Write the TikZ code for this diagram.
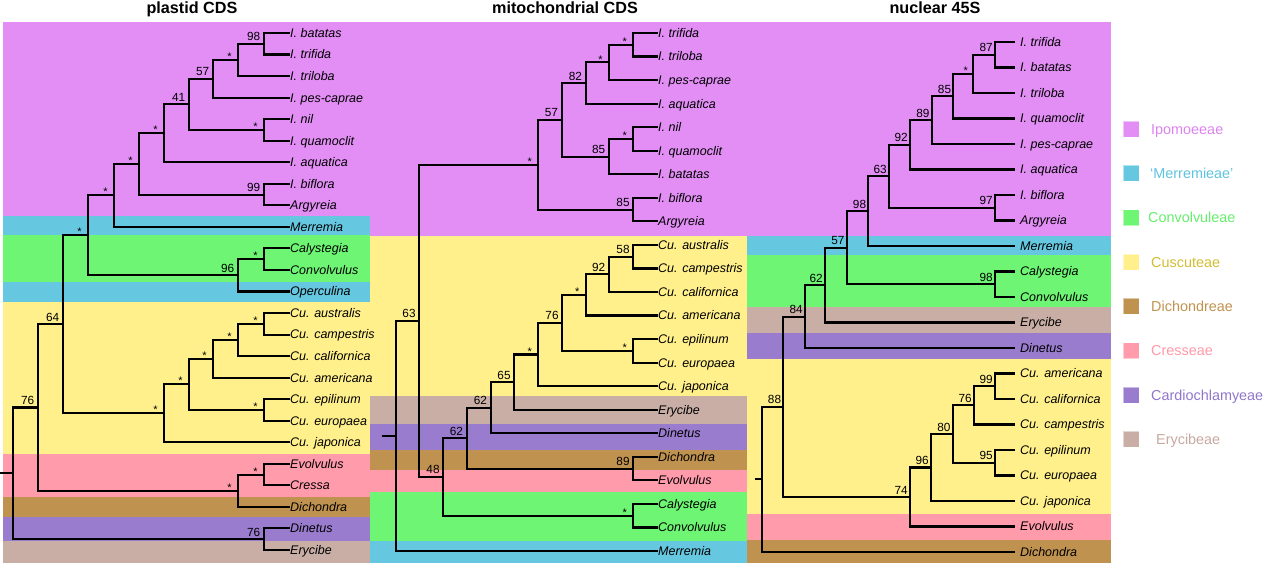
\documentclass[tikz,border=0pt]{standalone}
\usepackage{fontspec}
\setmainfont{Liberation Sans}
\usetikzlibrary{calc}
\definecolor{ipo}{HTML}{E28EF5}
\definecolor{mer}{HTML}{66C8E0}
\definecolor{con}{HTML}{6DF573}
\definecolor{cus}{HTML}{FFF08C}
\definecolor{dic}{HTML}{C0924F}
\definecolor{cre}{HTML}{FF9BAA}
\definecolor{car}{HTML}{9A7CCE}
\definecolor{ery}{HTML}{C9AEA6}
\definecolor{ipoT}{HTML}{DE82F2}
\definecolor{merT}{HTML}{5FC3E0}
\definecolor{conT}{HTML}{66EE6C}
\definecolor{cusT}{HTML}{D2BC30}
\definecolor{dicT}{HTML}{C0924F}
\definecolor{creT}{HTML}{FF98A8}
\definecolor{carT}{HTML}{9076CA}
\definecolor{eryT}{HTML}{C6A99F}
\newcommand\TreeTip[5]{\coordinate (#1) at (#2,{#3});
  \node[taxon, xshift=#4pt] (#1-l) at (#1) {#5};}
\newcommand\TreeNode[4]{\path let \p1=(#3), \p2=(#4) in coordinate (#1) at (#2pt,{0.5*(\y1+\y2)});
  \draw[branch] (#1) |- (#3); \draw[branch] (#1) |- (#4);}
\newcommand\Supp[3][]{\node[suplab,#1] (#2-s) at (#2) {#3};}
\newcommand\SuppStar[2][]{\node[starlab,#1] (#2-s) at (#2) {*};}
\begin{document}
\begin{tikzpicture}[x=1pt,y=-1pt,
  branch/.style={line width=2.1pt, line join=miter},
  band/.style={},
  taxon/.style={anchor=base west, inner sep=0pt, yshift=-4.4pt, font=\fontsize{12.5}{15}\selectfont\itshape},
  suplab/.style={anchor=base east, inner sep=0pt, xshift=-3.5pt, yshift=3pt, font=\fontsize{11.8}{13}\selectfont},
  starlab/.style={anchor=base, inner sep=0pt, xshift=-8.5pt, yshift=-0.6pt, font=\fontsize{11}{12}\selectfont},
  title/.style={anchor=base, inner sep=0pt, font=\bfseries\fontsize{16.2}{19}\selectfont},
  legsq/.style={minimum size=16pt, inner sep=0pt, draw=white, draw opacity=0.5, line width=0.5pt},
  legtxt/.style={anchor=base west, inner sep=0pt, yshift=-5.1pt, font=\fontsize{14.4}{17}\selectfont}]
\useasboundingbox (0,0) rectangle (1266,563);
% ---------- backgrounds: plastid ----------
\fill[ipo,band] (3,22) rectangle (370,216);
\fill[mer,band] (3,216) rectangle (370,235);
\fill[con,band] (3,235) rectangle (370,282);
\fill[mer,band] (3,282) rectangle (370,302);
\fill[cus,band] (3,302) rectangle (370,454);
\fill[cre,band] (3,454) rectangle (370,497);
\fill[dic,band] (3,497) rectangle (370,517);
\fill[car,band] (3,517) rectangle (370,541);
\fill[ery,band] (3,541) rectangle (370,563);
% ---------- backgrounds: mitochondrial ----------
\fill[ipo,band] (370,22) rectangle (747,236);
\fill[cus,band] (370,236) rectangle (747,396);
\fill[ery,band] (370,396) rectangle (747,424);
\fill[car,band] (370,424) rectangle (747,450);
\fill[dic,band] (370,450) rectangle (747,470);
\fill[cre,band] (370,470) rectangle (747,492);
\fill[con,band] (370,492) rectangle (747,541);
\fill[mer,band] (370,541) rectangle (747,563);
% ---------- backgrounds: nuclear ----------
\fill[ipo,band] (747,22) rectangle (1111,236);
\fill[mer,band] (747,236) rectangle (1111,255);
\fill[con,band] (747,255) rectangle (1111,306.7);
\fill[ery,band] (747,306.7) rectangle (1111,333.3);
\fill[car,band] (747,333.3) rectangle (1111,359.3);
\fill[cus,band] (747,359.3) rectangle (1111,514.3);
\fill[cre,band] (747,514.3) rectangle (1111,540);
\fill[dic,band] (747,540) rectangle (1111,563);
% ---------- titles ----------
\node[title] (t1) at (192,13) {plastid CDS};
\node[title] (t2) at (565,13) {mitochondrial CDS};
\node[title] (t3) at (935,13) {nuclear 45S};
% ---------- plastid tree ----------
\TreeTip{pbat}{290}{33+0*21.54}{0}{I. batatas}
\TreeTip{ptrif}{290}{33+1*21.54}{0}{I. trifida}
\TreeTip{ptril}{290}{33+2*21.54}{0}{I. triloba}
\TreeTip{ppes}{290}{33+3*21.54}{0}{I. pes-caprae}
\TreeTip{pnil}{290}{33+4*21.54}{0}{I. nil}
\TreeTip{pquam}{290}{33+5*21.54}{0}{I. quamoclit}
\TreeTip{paqu}{290}{33+6*21.54}{0}{I. aquatica}
\TreeTip{pbif}{290}{33+7*21.54}{0}{I. biflora}
\TreeTip{parg}{290}{33+8*21.54}{0}{Argyreia}
\TreeTip{pmer}{290}{33+9*21.54}{0}{Merremia}
\TreeTip{pcal}{290}{33+10*21.54}{0}{Calystegia}
\TreeTip{pcon}{290}{33+11*21.54}{0}{Convolvulus}
\TreeTip{pope}{290}{33+12*21.54}{0}{Operculina}
\TreeTip{pcaus}{290}{33+13*21.54}{0}{Cu. australis}
\TreeTip{pccam}{290}{33+14*21.54}{0}{Cu. campestris}
\TreeTip{pccal}{290}{33+15*21.54}{0}{Cu. californica}
\TreeTip{pcame}{290}{33+16*21.54}{0}{Cu. americana}
\TreeTip{pcepi}{290}{33+17*21.54}{0}{Cu. epilinum}
\TreeTip{pceur}{290}{33+18*21.54}{0}{Cu. europaea}
\TreeTip{pcjap}{290}{33+19*21.54}{0}{Cu. japonica}
\TreeTip{pevo}{290}{33+20*21.54}{0}{Evolvulus}
\TreeTip{pcre}{290}{33+21*21.54}{0}{Cressa}
\TreeTip{pdic}{290}{33+22*21.54}{0}{Dichondra}
\TreeTip{pdin}{290}{33+23*21.54}{0}{Dinetus}
\TreeTip{pery}{290}{33+24*21.54}{0}{Erycibe}
\TreeNode{p1}{264}{pbat}{ptrif}
\TreeNode{p2}{238}{p1}{ptril}
\TreeNode{p3}{213}{p2}{ppes}
\TreeNode{p4}{264}{pnil}{pquam}
\TreeNode{p5}{189}{p3}{p4}
\TreeNode{p6}{164}{p5}{paqu}
\TreeNode{p7}{264}{pbif}{parg}
\TreeNode{p8}{139}{p6}{p7}
\TreeNode{p9}{114}{p8}{pmer}
\TreeNode{p10}{264}{pcal}{pcon}
\TreeNode{p11}{238}{p10}{pope}
\TreeNode{p12}{88}{p9}{p11}
\TreeNode{p13}{264}{pcaus}{pccam}
\TreeNode{p14}{238}{p13}{pccal}
\TreeNode{p15}{213}{p14}{pcame}
\TreeNode{p16}{264}{pcepi}{pceur}
\TreeNode{p17}{189}{p15}{p16}
\TreeNode{p18}{164}{p17}{pcjap}
\TreeNode{p19}{63}{p12}{p18}
\TreeNode{p20}{264}{pevo}{pcre}
\TreeNode{p21}{238}{p20}{pdic}
\TreeNode{p22}{38}{p19}{p21}
\TreeNode{p23}{264}{pdin}{pery}
\TreeNode{p24}{13}{p22}{p23}
\coordinate (p0) at ($(p24)+(-13,0)$);
\draw[branch] (p0) -- (p24);
\Supp{p1}{98} \SuppStar{p2} \Supp{p3}{57} \SuppStar{p4} \Supp{p5}{41}
\SuppStar{p6} \Supp{p7}{99} \SuppStar{p8} \SuppStar{p9} \SuppStar{p10}
\Supp{p11}{96} \SuppStar{p12} \SuppStar{p13} \SuppStar{p14} \SuppStar{p15}
\SuppStar{p16} \SuppStar{p17} \SuppStar{p18} \Supp{p19}{64} \SuppStar{p20}
\SuppStar{p21} \Supp{p22}{76} \Supp{p23}{76}
% ---------- mitochondrial tree ----------
\TreeTip{mtrif}{657.5}{33+0*23.545}{0.5}{I. trifida}
\TreeTip{mtril}{657.5}{33+1*23.545}{0.5}{I. triloba}
\TreeTip{mpes}{657.5}{33+2*23.545}{0.5}{I. pes-caprae}
\TreeTip{maqu}{657.5}{33+3*23.545}{0.5}{I. aquatica}
\TreeTip{mnil}{657.5}{33+4*23.545}{0.5}{I. nil}
\TreeTip{mquam}{657.5}{33+5*23.545}{0.5}{I. quamoclit}
\TreeTip{mbat}{657.5}{33+6*23.545}{0.5}{I. batatas}
\TreeTip{mbif}{657.5}{33+7*23.545}{0.5}{I. biflora}
\TreeTip{marg}{657.5}{33+8*23.545}{0.5}{Argyreia}
\TreeTip{mcaus}{657.5}{33+9*23.545}{0.5}{Cu. australis}
\TreeTip{mccam}{657.5}{33+10*23.545}{0.5}{Cu. campestris}
\TreeTip{mccal}{657.5}{33+11*23.545}{0.5}{Cu. californica}
\TreeTip{mcame}{657.5}{33+12*23.545}{0.5}{Cu. americana}
\TreeTip{mcepi}{657.5}{33+13*23.545}{0.5}{Cu. epilinum}
\TreeTip{mceur}{657.5}{33+14*23.545}{0.5}{Cu. europaea}
\TreeTip{mcjap}{657.5}{33+15*23.545}{0.5}{Cu. japonica}
\TreeTip{mery}{657.5}{33+16*23.545}{0.5}{Erycibe}
\TreeTip{mdin}{657.5}{33+17*23.545}{0.5}{Dinetus}
\TreeTip{mdic}{657.5}{33+18*23.545}{0.5}{Dichondra}
\TreeTip{mevo}{657.5}{33+19*23.545}{0.5}{Evolvulus}
\TreeTip{mcal}{657.5}{33+20*23.545}{0.5}{Calystegia}
\TreeTip{mcon}{657.5}{33+21*23.545}{0.5}{Convolvulus}
\TreeTip{mmer}{657.5}{33+22*23.545}{0.5}{Merremia}
\TreeNode{m1}{633.3}{mtrif}{mtril}
\TreeNode{m2}{609}{m1}{mpes}
\TreeNode{m3}{585.7}{m2}{maqu}
\TreeNode{m4}{633.3}{mnil}{mquam}
\TreeNode{m5}{609}{m4}{mbat}
\TreeNode{m6}{561.7}{m3}{m5}
\TreeNode{m7}{633.3}{mbif}{marg}
\TreeNode{m8}{538.3}{m6}{m7}
\TreeNode{m9}{633.3}{mcaus}{mccam}
\TreeNode{m10}{609}{m9}{mccal}
\TreeNode{m11}{585.7}{m10}{mcame}
\TreeNode{m12}{633.3}{mcepi}{mceur}
\TreeNode{m13}{562.3}{m11}{m12}
\TreeNode{m14}{538.3}{m13}{mcjap}
\TreeNode{m15}{514.3}{m14}{mery}
\TreeNode{m16}{490.7}{m15}{mdin}
\TreeNode{m17}{633.3}{mdic}{mevo}
\TreeNode{m18}{466.7}{m16}{m17}
\TreeNode{m19}{633.3}{mcal}{mcon}
\TreeNode{m20}{443.3}{m18}{m19}
\TreeNode{m21}{419.3}{m8}{m20}
\TreeNode{m22}{396}{m21}{mmer}
\coordinate (m0) at ($(m22)+(-14.3,0)$);
\draw[branch] (m0) -- (m22);
\SuppStar{m1} \SuppStar{m2} \Supp{m3}{82} \SuppStar{m4} \Supp{m5}{85}
\Supp{m6}{57} \Supp{m7}{85} \SuppStar{m8} \Supp{m9}{58} \Supp{m10}{92}
\SuppStar{m11} \SuppStar{m12} \Supp{m13}{76} \SuppStar{m14} \Supp{m15}{65}
\Supp{m16}{62} \Supp{m17}{89} \Supp{m18}{62} \SuppStar{m19} \Supp{m20}{48}
\Supp{m21}{63}
% ---------- nuclear tree ----------
\TreeTip{ntrif}{1015}{42+0*25.5}{5}{I. trifida}
\TreeTip{nbat}{1015}{42+1*25.5}{5}{I. batatas}
\TreeTip{ntril}{1015}{42+2*25.5}{5}{I. triloba}
\TreeTip{nquam}{1015}{42+3*25.5}{5}{I. quamoclit}
\TreeTip{npes}{1015}{42+4*25.5}{5}{I. pes-caprae}
\TreeTip{naqu}{1015}{42+5*25.5}{5}{I. aquatica}
\TreeTip{nbif}{1015}{42+6*25.5}{5}{I. biflora}
\TreeTip{narg}{1015}{42+7*25.5}{5}{Argyreia}
\TreeTip{nmer}{1015}{42+8*25.5}{5}{Merremia}
\TreeTip{ncal}{1015}{42+9*25.5}{5}{Calystegia}
\TreeTip{ncon}{1015}{42+10*25.5}{5}{Convolvulus}
\TreeTip{nery}{1015}{42+11*25.5}{5}{Erycibe}
\TreeTip{ndin}{1015}{42+12*25.5}{5}{Dinetus}
\TreeTip{ncame}{1015}{42+13*25.5}{5}{Cu. americana}
\TreeTip{nccal}{1015}{42+14*25.5}{5}{Cu. californica}
\TreeTip{nccam}{1015}{42+15*25.5}{5}{Cu. campestris}
\TreeTip{ncepi}{1015}{42+16*25.5}{5}{Cu. epilinum}
\TreeTip{nceur}{1015}{42+17*25.5}{5}{Cu. europaea}
\TreeTip{ncjap}{1015}{42+18*25.5}{5}{Cu. japonica}
\TreeTip{nevo}{1015}{42+19*25.5}{5}{Evolvulus}
\TreeTip{ndic}{1015}{42+20*25.5}{5}{Dichondra}
\TreeNode{n1}{995}{ntrif}{nbat}
\TreeNode{n2}{973.3}{n1}{ntril}
\TreeNode{n3}{953.3}{n2}{nquam}
\TreeNode{n4}{931.7}{n3}{npes}
\TreeNode{n5}{910}{n4}{naqu}
\TreeNode{n6}{995}{nbif}{narg}
\TreeNode{n7}{889}{n5}{n6}
\TreeNode{n8}{868.3}{n7}{nmer}
\TreeNode{n9}{995}{ncal}{ncon}
\TreeNode{n10}{846.7}{n8}{n9}
\TreeNode{n11}{825}{n10}{nery}
\TreeNode{n12}{805}{n11}{ndin}
\TreeNode{n13}{995}{ncame}{nccal}
\TreeNode{n14}{974}{n13}{nccam}
\TreeNode{n15}{995}{ncepi}{nceur}
\TreeNode{n16}{952.7}{n14}{n15}
\TreeNode{n17}{931}{n16}{ncjap}
\TreeNode{n18}{910}{n17}{nevo}
\TreeNode{n19}{783.3}{n12}{n18}
\TreeNode{n20}{762}{n19}{ndic}
\coordinate (n0) at ($(n20)+(-7.5,0)$);
\draw[branch] (n0) -- (n20);
\Supp[xshift=1.5pt]{n1}{87} \SuppStar[xshift=1pt]{n2} \Supp[xshift=1.5pt]{n3}{85}
\Supp[xshift=1.5pt]{n4}{89} \Supp[xshift=1.5pt]{n5}{92} \Supp[xshift=1.5pt]{n6}{97}
\Supp[xshift=1.5pt]{n7}{63} \Supp[xshift=1.5pt]{n8}{98} \Supp[xshift=1.5pt]{n9}{98}
\Supp[xshift=1.5pt]{n10}{57} \Supp[xshift=1.5pt]{n11}{62} \Supp[xshift=1.5pt]{n12}{84}
\Supp[xshift=1.5pt]{n13}{99} \Supp[xshift=1.5pt]{n14}{76} \Supp[xshift=1.5pt]{n15}{95}
\Supp[xshift=1.5pt]{n16}{80} \Supp[xshift=1.5pt]{n17}{96} \Supp[xshift=1.5pt]{n18}{74}
\Supp[xshift=1.5pt]{n19}{88}
% ---------- legend ----------
\node[legsq, fill=ipo] (lq1) at (1131,129) {};
\node[legsq, fill=mer] (lq2) at (1131,173.3) {};
\node[legsq, fill=con] (lq3) at (1131,217.7) {};
\node[legsq, fill=cus] (lq4) at (1131,262.3) {};
\node[legsq, fill=dic] (lq5) at (1131,306) {};
\node[legsq, fill=cre] (lq6) at (1131,350.7) {};
\node[legsq, fill=car] (lq7) at (1131,395) {};
\node[legsq, fill=ery] (lq8) at (1131,439.3) {};
\node[legtxt, text=ipoT] (lt1) at (1151,129) {Ipomoeeae};
\node[legtxt, text=merT] (lt2) at (1150,173.3) {‘Merremieae’};
\node[legtxt, text=conT] (lt3) at (1148,217.7) {Convolvuleae};
\node[legtxt, text=cusT] (lt4) at (1151,262.3) {Cuscuteae};
\node[legtxt, text=dicT] (lt5) at (1151,306) {Dichondreae};
\node[legtxt, text=creT] (lt6) at (1151,350.7) {Cresseae};
\node[legtxt, text=carT] (lt7) at (1151,395) {Cardiochlamyeae};
\node[legtxt, text=eryT] (lt8) at (1156,439.3) {Erycibeae};
\end{tikzpicture}
\end{document}
